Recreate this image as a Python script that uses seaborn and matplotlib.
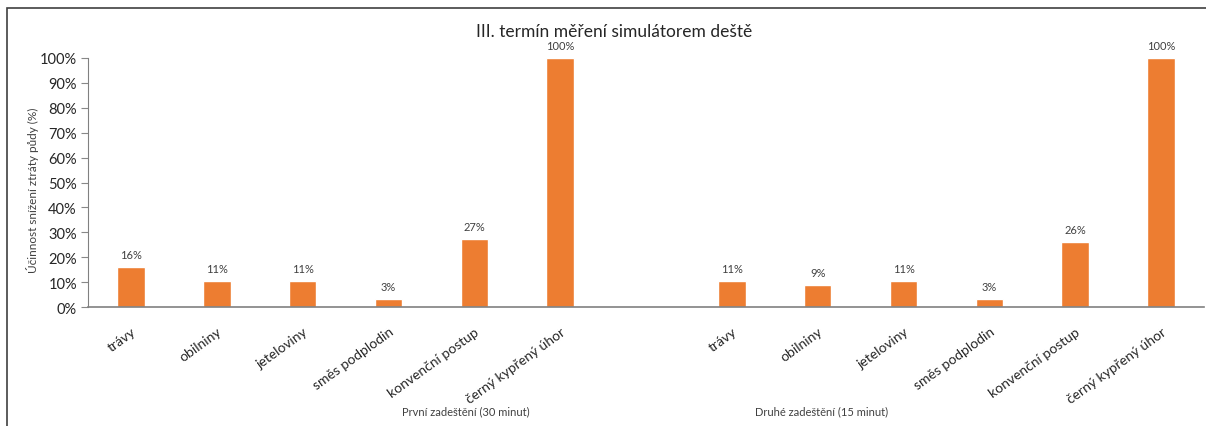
import numpy as np
import pandas as pd
import seaborn as sns
import matplotlib.pyplot as plt
from matplotlib.patches import Rectangle
from matplotlib.transforms import blended_transform_factory

# Data
kategorie = ["trávy", "obilniny", "jeteloviny", "směs podplodin",
             "konvenční postup", "černý kypřený úhor"]
skupiny = ["První zadeštění (30 minut)", "Druhé zadeštění (15 minut)"]
prvni = [16.2, 10.6, 10.6, 3.1, 27.3, 100.0]
druhe = [10.6, 9.0, 10.6, 3.3, 26.2, 100.0]
titulek = "III. termín měření simulátorem deště"
osa_y = "Účinnost snížení ztráty půdy (%)"

# one empty slot between the two groups
n = len(kategorie)
pos = [i for i in range(n)] + [n + 1 + i for i in range(n)]
df = pd.DataFrame({"pos": pos, "val": prvni + druhe,
                   "kat": kategorie + kategorie})

sns.set_theme(style="white")
plt.rcParams['font.family'] = ['Lato', 'DejaVu Sans']

W, H = 1206, 427
fig = plt.figure(figsize=(W / 100, H / 100), dpi=100)
ax = fig.add_axes([88 / W, 1 - 308 / H, (1204 - 88) / W, (308 - 59) / H])

sns.barplot(data=df, x="pos", y="val", native_scale=True, width=0.32,
            color="#ED7D31", saturation=1, ax=ax)

ax.bar_label(ax.containers[0], labels=[f"{v:.0f}%" for v in df["val"]],
             padding=5, fontsize=8, color="#404040")

ax.set_xlim(-0.5, 2 * n + 0.5)
ax.set_ylim(0, 100)
ax.set_yticks(np.arange(0, 101, 10))
ax.set_yticklabels([f"{t}%" for t in range(0, 101, 10)], fontsize=10.5,
                   color="#262626")
ax.set_xticks(pos)
ax.set_xticklabels(df["kat"], rotation=36, ha="right", rotation_mode="anchor",
                   fontsize=10, color="#262626")
ax.tick_params(axis="x", length=0, pad=13)
ax.tick_params(axis="y", length=5, width=0.8, color="#888888", direction="out",
               left=True, pad=3)
ax.set_xlabel("")
ax.set_ylabel("")

for s in ["top", "right"]:
    ax.spines[s].set_visible(False)
ax.spines["bottom"].set_color("#808080")
ax.spines["left"].set_color("#808080")
ax.spines["bottom"].set_linewidth(1.2)
ax.spines["left"].set_linewidth(0.8)

# group labels under the categories
tr = blended_transform_factory(ax.transData, fig.transFigure)
ax.text(3.9, 1 - 412 / H, skupiny[0], transform=tr, ha="center",
        va="center", fontsize=8, color="#404040")
ax.text(8.05, 1 - 412 / H, skupiny[1], transform=tr, ha="center",
        va="center", fontsize=8, color="#404040")

fig.text(614 / W, 1 - 32 / H, titulek, ha="center", va="center",
         fontsize=12.5, color="#262626")
fig.text(33 / W, 1 - 190 / H, osa_y, rotation=90, ha="center", va="center",
         fontsize=8.5, color="#404040")

# chart frame
fig.patches.append(Rectangle((7 / W, -0.1), 1.2, 1 - 9 / H + 0.1,
                             transform=fig.transFigure, fill=False,
                             edgecolor="#404040", linewidth=1.2))

fig.savefig("out.png", dpi=100)
